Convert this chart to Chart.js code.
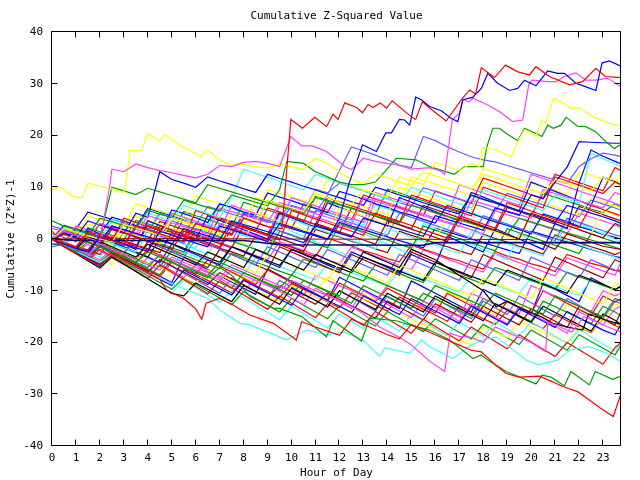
<!DOCTYPE html>
<html>
<head>
<meta charset="utf-8">
<title>Cumulative Z-Squared Value</title>
<script src="https://cdn.jsdelivr.net/npm/chart.js@4.4.1/dist/chart.umd.min.js"></script>
<style>
  html, body { margin: 0; padding: 0; background: #fff; }
  canvas { display: block; }
</style>
</head>
<body>
<canvas id="chart" width="640" height="480"></canvas>
<script>
// sample times (hours) shared by the plain walks
const hours = [0, 0.5, 1, 1.5, 2, 2.5, 3, 3.5, 4, 4.5, 5, 5.5, 6, 6.5, 7, 7.5,
  8, 8.5, 9, 9.5, 10, 10.5, 11, 11.5, 12, 12.5, 13, 13.5, 14, 14.5, 15, 15.5,
  16, 16.5, 17, 17.5, 18, 18.5, 19, 19.5, 20, 20.5, 21, 21.5, 22, 22.5, 23, 23.5, 23.75];
const xTicks = [0, 1, 2, 3, 4, 5, 6, 7, 8, 9, 10, 11, 12, 13, 14, 15, 16, 17, 18, 19, 20, 21, 22, 23];
const yTicks = [-40, -30, -20, -10, 0, 10, 20, 30, 40];

// traced lines [hour, value]
const redTop = [[0,0],[0.5,-0.8],[1,-1.5],[1.5,1.2],[2,0.5],[2.5,-0.3],[3,-1],[3.5,2.5],[4,1.8],[4.5,1],[5,0.3],[5.5,-0.5],[6,3],[6.5,2.2],[7,1.5],[7.5,0.8],[8,4],[8.5,3.2],[9,2.4],[9.6,2],[9.97,23.1],[10.45,21.4],[10.97,23.5],[11.46,21.7],[11.73,24.1],[11.94,23.1],[12.22,26.3],[12.71,25.4],[12.96,24.4],[13.19,26.0],[13.4,25.4],[13.7,26.3],[13.96,25.3],[14.2,26.7],[15.0,23.6],[15.18,23.1],[15.46,26.5],[15.76,25.3],[16.45,22.8],[16.67,24.2],[17.08,26.9],[17.43,28.8],[17.68,28.0],[17.92,33.1],[18.47,31.2],[18.93,33.6],[19.44,32.3],[19.93,31.7],[20.2,33.3],[20.76,31.4],[21.6,29.8],[22.15,30.4],[22.7,33.0],[23.1,31.4],[23.75,31.2]];
const blueTop = [[0,0],[0.5,-1],[1,-1.8],[1.5,-2.5],[2,0.5],[2.5,-0.2],[3,-1],[3.5,-1.7],[4,-2.4],[4.5,1.5],[5,0.8],[5.5,0],[6,-0.8],[6.5,-1.5],[7,2.5],[7.5,1.8],[8,1],[8.5,0.3],[9,-0.5],[9.5,3],[10,2.3],[10.5,1.5],[11,0.8],[11.5,0],[12,4],[12.4,10.8],[12.6,13.3],[12.96,18.2],[13.54,16.9],[13.93,20.5],[14.17,20.5],[14.5,23.1],[14.72,23.0],[14.93,22.0],[15.18,27.4],[15.42,26.9],[15.76,25.6],[16.25,24.8],[16.67,23.3],[16.94,22.7],[17.15,26.9],[17.57,27.4],[17.92,29.1],[18.19,32.0],[18.6,30.1],[19.1,28.7],[19.44,29.1],[19.72,30.7],[20.2,29.6],[20.69,32.5],[21.1,32.0],[21.39,32.0],[21.87,30.1],[22.29,29.4],[22.7,28.7],[22.96,34.0],[23.26,34.4],[23.75,33.4]];
const magentaTop = [[0,0],[0.5,1.5],[1,0.8],[1.5,0.2],[2,-0.5],[2.4,10],[2.5,13.5],[3,13],[3.5,14.5],[4,13.8],[4.5,13.2],[5,12.8],[5.5,12.3],[6,11.8],[6.5,12.5],[7,14.2],[7.5,14.0],[8,14.8],[8.5,15],[9,14.6],[9.5,14.0],[9.97,19.8],[10.42,18.0],[10.87,18.0],[11.46,16.9],[12.22,14.0],[12.5,13.4],[13,15.6],[13.5,15],[14,14.6],[14.5,14.2],[15,13.5],[15.76,13.8],[16.2,13.2],[16.39,12.5],[16.71,23.0],[17.0,24.3],[17.15,27.0],[17.4,26.5],[17.57,27.2],[18.19,25.9],[18.68,24.6],[19.23,22.7],[19.65,23.0],[19.9,29.8],[20.04,30.7],[20.69,30.4],[21.04,30.4],[21.39,31.4],[21.87,32.1],[22.29,30.7],[22.7,30.7],[23.19,31.1],[23.75,29.4]];
const yellowTop = [[0,9.7],[0.35,10],[0.9,8.2],[1.25,7.9],[1.5,10.8],[2,10.2],[2.5,9.6],[3,9],[3.15,13.3],[3.26,17.1],[3.75,17.2],[3.98,20.4],[4.48,19.0],[4.72,20.2],[5.35,18.0],[5.83,16.9],[6.22,15.9],[6.46,17.3],[7.01,15.3],[7.43,14.2],[7.85,14.5],[8.5,14],[9,13.7],[9.5,14.5],[10,14],[10.5,13.4],[11,15.6],[11.5,14.6],[12,13],[12.5,11.5],[13,10.8],[13.5,12.5],[14,11.8],[14.5,11],[15,10.3],[15.5,13],[16,12.2],[16.5,11.4],[17,10.6],[17.5,9.8],[18,12.5],[18.5,11.8],[19,11],[19.5,10.2],[20,9.5],[20.5,8.8],[21,11.5],[21.5,10.8],[22,10],[22.5,9.3],[23,12],[23.75,11]];
const yellowRise = [[0,0],[0.5,2],[1,1.3],[1.5,0.6],[2,0],[2.5,-0.6],[3,2.8],[3.5,2.1],[4,1.4],[4.5,0.7],[5,4],[5.5,3.3],[6,2.6],[6.5,1.9],[7,1.2],[7.5,4.6],[8,3.9],[8.5,3.2],[9,7.5],[9.5,6.8],[10,6],[10.5,5.3],[11,8.8],[11.5,8],[12,7.3],[12.5,6.6],[13,9.5],[13.5,8.8],[14,8.1],[14.5,12],[15,11.3],[15.5,10.5],[16,14.8],[16.5,14],[17,13.2],[17.5,14.6],[17.84,14.0],[17.96,17.7],[18.54,17.2],[19.17,15.9],[19.44,18.8],[19.72,21.1],[20.2,19.8],[20.46,23.0],[20.6,22.4],[20.93,27.2],[21.32,26.3],[21.73,25.1],[22.0,25.4],[22.57,23.6],[23.26,22.4],[23.75,21.8]];
const greenTop = [[0,0],[0.5,2],[1,1.3],[1.5,0.6],[2,4],[2.5,3.3],[3,2.6],[3.5,1.9],[4,5.5],[4.5,4.8],[5,4.1],[5.5,7.5],[6,6.8],[6.5,6.1],[7,5.4],[7.5,8.5],[8,7.8],[8.5,7.1],[9,6.4],[9.5,9.5],[9.8,15],[10.5,14.6],[11,13],[11.5,12],[12,11],[12.5,10.5],[13,10.5],[13.5,11],[13.95,13.3],[14.37,15.6],[15.2,15.3],[15.76,14.0],[16.3,13.2],[16.8,12.5],[17.22,14.0],[18.0,14.0],[18.15,17.8],[18.4,21.4],[18.68,21.4],[18.96,20.4],[19.44,19.0],[19.72,21.4],[20.2,20.4],[20.45,19.8],[20.69,22.0],[20.93,21.4],[21.25,22.0],[21.46,23.5],[21.94,21.8],[22.29,21.7],[22.7,20.7],[23.12,18.8],[23.47,17.5],[23.75,18.3]];
const redLow = [[0,0],[0.5,-1.5],[1,-2.8],[1.5,-4],[2,-5.2],[2.5,-3],[3,-4.2],[3.5,-5.4],[4,-6.5],[4.5,-7.8],[4.8,-9.9],[5.5,-11.5],[6,-13.5],[6.25,-15.5],[6.43,-12.4],[7,-11.5],[7.43,-12.4],[8.26,-14.7],[9.24,-16.3],[10.2,-19.5],[10.42,-16.0],[11,-17],[11.5,-17.8],[12,-18.6],[12.5,-15.5],[13,-16.5],[13.5,-17.5],[14,-18.5],[14.5,-19.3],[15,-16.5],[15.5,-17.5],[16,-18.5],[16.5,-19.5],[17,-20.5],[17.5,-21.5],[17.92,-21.8],[18.5,-24.3],[18.96,-26.0],[19.5,-26.7],[20.35,-26.5],[20.9,-27.6],[21.32,-28.5],[21.94,-29.5],[22.43,-31.1],[22.9,-32.7],[23.43,-34.3],[23.72,-30.3]];
const greenLow = [[0,0],[0.5,-1.3],[1,-2.5],[1.5,-0.5],[2,-1.5],[2.5,-2.5],[3,-3.5],[3.5,-4.5],[4,-2.5],[4.5,-3.5],[5,-4.5],[5.5,-5.5],[6,-6.5],[6.5,-7.5],[7,-5.5],[7.5,-7],[8.26,-11.1],[9.24,-13.4],[9.5,-13.4],[10.42,-15.0],[11.46,-18.9],[11.73,-15.8],[12.92,-19.7],[13.26,-15.3],[14.37,-15.8],[15,-16.7],[15.76,-17.6],[16.6,-19.5],[17.57,-23.1],[17.92,-22.4],[18.19,-23.4],[18.96,-25.6],[20.2,-28.0],[20.46,-26.3],[20.83,-26.7],[21.39,-28.4],[21.66,-25.6],[22.43,-28.2],[22.68,-25.6],[23.4,-27.1],[23.75,-26.5]];
const magentaLow = [[0,0],[0.5,-1],[1,-2],[1.5,-3],[2,-1],[2.5,-2],[3,-3],[3.5,-4],[4,-5],[4.5,-3],[5,-4],[5.5,-5],[6,-6],[6.5,-7],[7,-8],[7.5,-6],[8,-7],[8.5,-8],[9,-9],[9.5,-10],[10,-8],[10.5,-9],[11,-10],[11.5,-11],[12,-12],[12.5,-13],[13,-14.5],[13.68,-17.0],[14.5,-19],[15,-20.5],[15.76,-23.6],[16.39,-25.6],[16.62,-18.2],[17,-18.8],[17.5,-19],[18,-20],[18.5,-17],[19,-18],[19.5,-19],[20,-20],[20.6,-21.8],[20.7,-16],[21.2,-17],[21.7,-18],[22.2,-15],[22.7,-16],[23.2,-17],[23.75,-18]];
const cyanLow = [[0,0],[0.5,-1.2],[1,-2.4],[1.5,-3.5],[2,-4.5],[2.5,-3],[3,-4.2],[3.5,-5.4],[4,-6.6],[4.5,-7.6],[5,-8.6],[5.5,-9.6],[6,-10.5],[6.5,-11.5],[7,-13.7],[7.43,-15.0],[7.85,-16.3],[8.26,-16.6],[9,-18],[9.79,-19.5],[10.63,-17.6],[11.5,-18.5],[12.2,-18],[12.98,-19.5],[13.68,-22.7],[13.9,-21],[14.93,-22.1],[15.42,-19.5],[15.76,-20.8],[16.74,-23.1],[17.5,-20.5],[18,-19.5],[18.54,-18.9],[19.79,-23.4],[20.28,-24.3],[21.1,-23.4],[21.6,-21.5],[22.43,-20.8],[23.1,-22],[23.75,-23.7]];
const blackLow = [[0,0],[0.5,-1],[1,-2],[1.5,0.5],[2,-0.5],[2.5,-1.5],[3,-2.5],[3.5,-3.5],[4,-1],[4.5,-2],[5,-3],[5.5,-4],[6,-5],[6.5,-2.5],[7,-3.5],[7.5,-4.5],[8,-5.5],[8.5,-2],[9,-3],[9.5,-4],[10,-5],[10.5,-6],[11,-3],[11.5,-4],[12,-5],[12.5,-6],[13,-2.5],[13.5,-3.5],[14,-4.5],[14.5,-5.5],[15,-2],[15.5,-3],[16,-4],[16.5,-5.5],[17,-7],[17.5,-8.5],[18,-10],[18.54,-13.1],[19,-12],[19.5,-13.2],[20,-14.2],[20.5,-15.2],[20.9,-16.3],[21.5,-17],[22.15,-17.6],[22.4,-14.5],[23,-15.5],[23.75,-16.5]];
const navyFlat = [[0,0],[1,-0.3],[8,-0.3],[9.5,-1.1],[15.5,-1.2],[16,-0.7],[23.75,-0.7]];
const darkredFlat = [[0,0],[5,0.1],[9,0],[19.9,-0.1],[20.5,-1],[21,-2],[21.5,1],[22,0.2],[22.5,-0.6],[23,-1.4],[23.75,-2]];

// plain walks on the half-hour grid
const walk01 = [0, 1.5, 0.8, 0.1, -0.6, 2.5, 1.8, 1.1, 0.4, -0.3, -1, 2, 1.3, 0.6, -0.1, 3.5, 2.8, 2.1, 1.4, 0.7, 0, -0.7, 2.5, 1.8, 1.1, 0.4, 4, 3.3, 2.6, 1.9, 1.2, 0.5, 4.5, 3.8, 3.1, 2.4, 1.7, 6, 5.3, 4.6, 8.5, 7.8, 11, 13.9, 18.8, 18.7, 18.6, 18.5, 18.5];
const walk02 = [0, -0.8, -1.6, 1, 0.3, -0.4, -1.1, 2, 1.3, 0.6, -0.1, -0.8, 3, 2.3, 1.6, 0.9, 5, 4.3, 3.6, 2.9, 6.5, 5.8, 5.1, 8.5, 13.3, 17.8, 17.0, 16.2, 15.3, 14.3, 13.8, 19.8, 19.0, 17.8, 16.8, 15.9, 15.3, 14.9, 14.2, 13.5, 12.8, 12.1, 11.4, 10.7, 14, 15.5, 16.6, 16.2, 15.9];
const walk03 = [0, -0.8, -1.6, -2.4, 1, 0.3, -0.5, -1.3, -2.1, 2.5, 1.7, 0.9, 0.1, -0.7, -1.5, 3, 2.2, 1.4, 0.6, -0.2, 5.5, 4.7, 3.9, 3.1, 2.3, 1.5, 0.7, 5, 4.2, 3.4, 2.6, 1.8, 1, 0.2, 4.5, 3.7, 2.9, 2.1, 7, 6.2, 5.4, 4.6, 3.8, 3, 2.2, 6.5, 5.7, 4.9, 4.5];
const walk04 = [-1.5, -1, -2, -3, -1.5, -2.5, -3.5, -4.5, -5.5, -3, -4, -5, -6, -7, -4.5, -5.5, -6.5, -7.5, -8.5, -9.5, -7, -8, -9, -10, -11, -6, -7, -8, -9, -10, -11, -12, -9, -10, -11, -12, -13, -10.5, -11.5, -12.5, -13.5, -14.5, -11, -12, -13, -14, -15, -11.5, -12];
const walk05 = [0, -1.3, -2.6, -3.8, -5, -3, -4.2, -5.4, -6.6, -7.8, -9, -6, -7.2, -8.4, -9.6, -10.8, -8, -9.2, -10.4, -11.6, -12.8, -9.5, -10.7, -11.9, -13, -14.2, -11, -12.2, -13.4, -14.6, -11.5, -12.7, -13.9, -15.1, -16.3, -13, -14.2, -15.4, -16.6, -13.5, -14.7, -15.9, -17.1, -14, -15.2, -16.4, -17.6, -18.5, -16.5];
const walk06 = [2, 1.5, 0.8, 0.1, 3, 2.3, 1.6, 0.9, 4.5, 3.8, 3.1, 2.4, 1.7, 1, 6, 5.3, 4.6, 3.9, 3.2, 7, 6.3, 5.6, 4.9, 4.2, 3.5, 2.8, 8, 7.3, 6.6, 5.9, 5.2, 4.5, 3.8, 3.1, 2.4, 7.5, 6.8, 6.1, 5.4, 4.7, 4, 9.5, 8.8, 8.1, 7.4, 6.7, 6, 9, 8.5];
const walk07 = [0.5, -0.9, 1.5, 0.7, -0.1, -0.9, -1.7, -2.5, 1.5, 0.7, -0.1, -0.9, -1.7, 3, 2.2, 1.4, 0.6, -0.2, -1, 4.5, 3.7, 2.9, 2.1, 1.3, 0.5, -0.3, -1.1, -1.9, 2, 1.2, 0.4, -0.4, -1.2, -2, -2.8, 1.5, 0.7, -0.1, -0.9, -1.7, -2.5, -3.3, 0.5, -0.3, -1.1, -1.9, -2.7, -3.5, -4];
const walk08 = [0, -1, -2, 0.5, -0.5, -1.5, -2.5, -3.5, -1, -2, -3, -4, -5, -2.5, -3.5, -4.5, -5.5, -6.5, -3, -4, -5, -6, -7, -8, -4.5, -5.5, -6.5, -7.5, -8.5, -5, -6, -7, -8, -9, -10, -11, -7.5, -8.5, -9.5, -10.5, -11.5, -7.5, -8.5, -9.5, -10.5, -11.5, -12.5, -8.5, -9];
const walk09 = [0, -1.4, -2.8, -4.2, -5.6, -3.5, -4.9, -6.3, -7.7, -9.1, -10.5, -11, -8.5, -9.7, -10.9, -12.1, -9, -10.2, -11.4, -12.6, -9.5, -10.7, -11.9, -13.1, -10, -11.2, -12.4, -13.6, -10.5, -11.7, -12.9, -14.1, -11, -12.2, -13.4, -14.6, -15.8, -12.5, -13.7, -14.9, -16.1, -13, -14.2, -15.4, -16.6, -17.8, -14.5, -15.7, -16.5];
const walk10 = [0, 1, 0.2, -0.6, -1.4, 2, 1.2, 0.4, -0.4, -1.2, -2, 1.5, 0.7, -0.1, -0.9, -1.7, 2.5, 1.7, 0.9, 0.1, -0.7, -1.5, 3, 2.2, 1.4, 0.6, -0.2, -1, 3.5, 2.7, 1.9, 1.1, 0.3, -0.5, 4, 3.2, 2.4, 1.6, 0.8, 0, 5, 4.2, 3.4, 2.6, 1.8, 1, 0.2, 3, 2.5];
const walk11 = [0, -1.4, -2.8, -4.2, -2, -3.4, -4.8, -6.2, -7.6, -5, -6.4, -7.8, -9.2, -10.6, -8, -9.4, -10.8, -12.2, -13.6, -11, -12.4, -13.8, -15.2, -12.5, -13.9, -15.3, -16.7, -14, -15.4, -16.8, -18.2, -15.5, -16.9, -18.3, -19.7, -17, -18.4, -19.8, -21.2, -18.5, -19.9, -21.3, -22.7, -20, -21.4, -22.8, -24.2, -21, -20];
const walk12 = [0, 1.2, 0.4, 3.5, 2.7, 1.9, 1.1, 5, 4.2, 13, 11.5, 10.8, 10, 12, 11.2, 10.5, 9.7, 9, 12.5, 11.7, 11, 10.2, 9.5, 8.7, 8, 7.2, 6.5, 10, 9.3, 8.5, 7.8, 7, 6.3, 5.5, 4.8, 8.5, 7.7, 7, 6.2, 5.5, 4.7, 4, 3.2, 6.5, 5.8, 5, 4.3, 3.5, 3];
const walk13 = [3.5, 2.5, 1.8, 1.1, 0.4, 10, 9.3, 8.6, 9.8, 9.1, 8.4, 7.7, 7, 10.5, 9.8, 9.1, 8.4, 7.7, 7, 6.3, 5.6, 4.9, 8, 7.3, 6.6, 5.9, 5.2, 4.5, 3.8, 3.1, 6.5, 5.8, 5.1, 4.4, 3.7, 3, 2.3, 1.6, 0.9, 4, 3.3, 2.6, 1.9, 1.2, 0.5, -0.2, -0.9, -1.6, -2];
const walk14 = [0, -1, -2, -3, -4, -2, -3, -4, -5, -6, -3.5, -4.5, -5.5, -6.5, -7.5, -5, -6, -7, -8, -9, -10, -11, -7, -8, -9, -10, -11, -12, -9, -10, -11, -12, -13, -14, -15, -10.5, -11.5, -12.5, -13.5, -14.5, -9, -10, -11, -12, -13, -14, -10, -11, -10.5];
const walk15 = [0, -1, 1.5, 0.7, -0.1, 3.5, 2.7, 1.9, 5, 4.2, 3.4, 6.5, 5.7, 4.9, 4.1, 8, 13.5, 12.7, 11.9, 11.1, 10.3, 9.5, 12.5, 11.7, 10.9, 10.1, 9.3, 8.5, 7.7, 6.9, 10, 9.2, 8.4, 7.6, 6.8, 6, 9.5, 8.7, 7.9, 7.1, 6.3, 5.5, 8.5, 7.7, 6.9, 16.6, 15.5, 14.5, 14];
const walk16 = [0, 2, 1.2, 0.4, -0.4, -1.2, 1.5, 0.7, -0.1, -0.9, 4, 3.2, 2.4, 1.6, 0.8, 0, -0.8, 5, 4.2, 3.4, 2.6, 1.8, 1, 0.2, 6, 5.2, 4.4, 3.6, 2.8, 2, 1.2, 0.4, -0.4, 4.5, 3.7, 2.9, 2.1, 1.3, 0.5, -0.3, 5, 4.2, 3.4, 2.6, 1.8, 1, 5.5, 4.7, 4.2];
const walk17 = [0, -0.9, -1.8, 1, 0.1, -0.8, -1.7, -2.6, -3.5, 0, -0.9, -1.8, -2.7, -3.6, -4.5, -1.5, -2.4, -3.3, -4.2, -5.1, -2, -2.9, -3.8, -4.7, -5.6, -6.5, -3.5, -4.4, -5.3, -6.2, -7.1, -8, -4.5, -5.4, -6.3, -7.2, -8.1, -9, -6, -6.9, -7.8, -8.7, -9.6, -10.5, -7, -7.9, -8.8, -9.7, -9.2];
const walk18 = [0, -1.2, -2.4, -3.6, -1.5, -2.7, -3.9, -5.1, -6.3, -4, -5.2, -6.4, -7.6, -8.8, -6.5, -7.7, -8.9, -10.1, -11.3, -9, -10.2, -11.4, -12.6, -10.5, -11.7, -12.9, -14.1, -15.3, -12, -13.2, -14.4, -15.6, -12.5, -13.7, -14.9, -16.1, -13, -14.2, -15.4, -16.6, -13.5, -14.7, -15.9, -17.1, -13, -14.2, -15.4, -16.6, -14];
const walk19 = [0, -1, -2, 0, -1, -2, -3, 0.5, -0.5, -1.5, -2.5, -3.5, 0, -1, -2, -3, -4, -5, -1.5, -2.5, -3.5, -4.5, -5.5, -2, -3, -4, -5, -6, -7, -3, -4, -5, -6, -7, -8, -4, -5, -6, -7, -8, -3.5, -4.5, -5.5, -6.5, -7.5, -4, -5, -6, -6.5];
const walk20 = [1.5, -0.9, 2, 1.2, 0.4, -0.4, 4, 3.2, 2.4, 1.6, 0.8, 0, 5.5, 4.7, 3.9, 3.1, 2.3, 1.5, 6, 5.2, 4.4, 3.6, 2.8, 8, 7.2, 6.4, 5.6, 4.8, 4, 3.2, 8.5, 7.7, 6.9, 6.1, 5.3, 4.5, 10, 9.2, 8.4, 7.6, 6.8, 6, 12, 11.2, 10.4, 9.6, 8.8, 11, 10.5];
const walk21 = [0, -1.1, -2.2, -3.3, -4.4, -2.5, -3.6, -4.7, -5.8, -6.9, -4, -5.1, -6.2, -7.3, -8.4, -9.5, -6.5, -7.6, -8.7, -9.8, -10.9, -8, -9.1, -10.2, -11.3, -12.4, -9, -10.1, -11.2, -12.3, -13.4, -10.5, -11.6, -12.7, -13.8, -14.9, -11.5, -12.6, -13.7, -14.8, -15.9, -12, -13.1, -14.2, -15.3, -16.4, -13, -14.1, -14.8];
const walk22 = [0, -1, -2, -3, 0.5, -0.5, -1.5, -2.5, -3.5, -4.5, -1, -2, -3, -4, -5, -1.5, -2.5, -3.5, -4.5, -5.5, -2, -3, -4, -5, -6, -2.5, -3.5, -4.5, -5.5, -6.5, -3, -4, -5, 0.5, -0.5, -1.5, -2.5, 2, 1, 0, -1, -2, 3, 2, 10.8, 17.2, 16, 15, 14.5];
const walk23 = [0, -1.3, -2.6, -1, -2.3, -3.6, -4.9, -6.2, -3.5, -4.8, -6.1, -7.4, -5, -6.3, -7.6, -8.9, -10.2, -7.5, -8.8, -10.1, -11.4, -12.7, -9.5, -10.8, -12.1, -13.4, -10, -11.3, -12.6, -13.9, -15.2, -12, -13.3, -14.6, -15.9, -12.5, -13.8, -15.1, -16.4, -13, -14.3, -15.6, -16.9, -18.2, -14, -15.3, -16.6, -13.5, -13];
const walk24 = [0, -1.4, -2.8, -4.2, -5.6, -3.5, -4.9, -6.3, -7.7, -9.1, -10.5, -8, -9.4, -10.8, -12.2, -10, -11.4, -12.8, -14.2, -15.6, -13, -14.4, -15.8, -17.2, -14.5, -15.9, -17.3, -15, -16.4, -17.8, -14.5, -15.9, -17.3, -18.7, -16, -17.4, -18.8, -16, -17.4, -18.8, -16, -17.4, -18.8, -20.2, -17.5, -18.9, -20.3, -21.7, -20];
const walk25 = [0, -1, -2, -3, -4, -5, -2.5, -3.5, -4.5, -5.5, -6.5, -7.5, -8.5, -6, -7, -8, -9, -10, -11, -12, -9, -10, -11, -12, -13, -14, -11.5, -12.5, -13.5, -14.5, -15.5, -16.5, -17.5, -18.5, -19.5, -20.5, -17, -18, -19, -16, -17, -18, -19, -20, -17, -18, -15.5, -16.5, -17];
const walk26 = [2.5, 1.8, 1, 0.2, -0.6, 2.5, 1.7, 0.9, 0.1, -0.7, 3.5, 2.7, 1.9, 1.1, 0.3, -0.5, 4, 3.2, 2.4, 1.6, 0.8, 0, 5.5, 4.7, 3.9, 3.1, 2.3, 1.5, 0.7, 5, 4.2, 3.4, 2.6, 1.8, 1, 0.2, 4.5, 3.7, 2.9, 2.1, 1.3, 0.5, -0.3, 4, 3.2, 2.4, 1.6, 0.8, 0.5];
const walk27 = [0, -1, -2, -3, -1, -2, -3, -4, -0.5, -1.5, -2.5, -3.5, -4.5, -5.5, -2, -3, -4, -5, -6, -1.5, -2.5, -3.5, -4.5, -5.5, -6.5, -3, -4, -5, -6, -7, -2.5, -3.5, -4.5, -5.5, -6.5, -7.5, -3, -4, -5, -6, -7, -8, -3.5, -4.5, -5.5, -6.5, -7.5, -4, -4.5];
const walk28 = [-1, -1, -2, 2, 1, 0, -1, -2, 3.5, 2.6, 1.7, 0.8, -0.1, 4.5, 3.6, 2.7, 1.8, 0.9, 0, 5, 4.1, 3.2, 2.3, 7, 6.1, 5.2, 4.3, 3.4, 2.5, 8, 7.1, 6.2, 5.3, 4.4, 3.5, 9, 8.1, 7.2, 6.3, 5.4, 11, 10.1, 9.2, 8.3, 7.4, 6.5, 12, 11.1, 10.5];
const walk29 = [0, -1.2, 1.5, 0.3, -0.9, -2.1, -3.3, -4.5, -2, -3.2, -4.4, -5.6, -6.8, -4, -5.2, -6.4, -7.6, -8.8, -6, -7.2, -8.4, -9.6, -10.8, -12, -8.5, -9.7, -10.9, -12.1, -9.5, -10.7, -11.9, -13.1, -14.3, -10.5, -11.7, -12.9, -14.1, -15.3, -12, -13.2, -14.4, -10, -11.2, -12.4, -13.6, -14.8, -11, -12.2, -11.5];
const walk30 = [0, 1, 0.2, -0.6, -1.4, -2.2, 1.5, 0.7, -0.1, -0.9, -1.7, -2.5, 2, 1.2, 0.4, -0.4, -1.2, -2, -2.8, 1.5, 0.7, -0.1, -0.9, -1.7, 3, 2.2, 1.4, 0.6, -0.2, -1, -1.8, 2.5, 1.7, 0.9, 0.1, -0.7, -1.5, -2.3, 2, 1.2, 0.4, -0.4, -1.2, -2, -2.8, 1, 0.2, -0.6, -1];
const walk31 = [0, -1.3, -2.6, -3.9, -1.5, -2.8, -4.1, -5.4, -6.7, -4, -5.3, -6.6, -7.9, -9.2, -10.5, -7.5, -8.8, -10.1, -11.4, -8, -9.3, -10.6, -11.9, -13.2, -10, -11.3, -12.6, -13.9, -11, -12.3, -13.6, -14.9, -11.5, -12.8, -14.1, -15.4, -12, -13.3, -14.6, -11, -12.3, -13.6, -14.9, -11.5, -12.8, -14.1, -15.4, -12, -12.5];
const walk32 = [0, -0.8, 2.5, 1.7, 0.9, 0.1, 3, 2.2, 1.4, 0.6, 5, 4.2, 3.4, 2.6, 1.8, 6.5, 5.7, 4.9, 4.1, 3.3, 8, 7.2, 6.4, 5.6, 4.8, 4, 3.2, 9, 8.2, 7.4, 6.6, 5.8, 5, 4.2, 10.5, 9.7, 8.9, 8.1, 7.3, 6.5, 12.5, 11.7, 10.9, 10.1, 9.3, 8.5, 7.7, 6.9, 6.5];
const walk33 = [1, -1, -2, -3, 0.5, -0.5, -1.5, -2.5, 2, 1, 0, -1, -2, -3, 1, 0, -1, -2, -3, 2.5, 1.5, 0.5, -0.5, -1.5, -2.5, -3.5, 1, 0, -1, -2, -3, 3, 2, 1, 0, -1, -2, -3, -4, 1, 0, -1, -2, 4, 3, 2, 1, 0, -0.5];
const walk34 = [0, 1, 0.2, 3, 2.2, 1.4, 0.6, 4.5, 3.7, 2.9, 2.1, 1.3, 5.5, 4.7, 3.9, 3.1, 2.3, 8, 7.2, 6.4, 5.6, 4.8, 9.5, 8.7, 7.9, 7.1, 6.3, 5.5, 4.7, 10, 9.2, 8.4, 7.6, 6.8, 6, 5.2, 11, 10.2, 9.4, 8.6, 7.8, 7, 6.2, 5.4, 4.6, 8, 7.2, 6.4, 6];
const walk35 = [0, -0.6, -1.5, -2.1, 0.8, 0.1, -0.9, -1.4, 2.6, 1.8, 1.3, 0.4, -0.3, -1.2, -1.8, 1.9, 1.2, 0.3, -0.5, -1.1, -2, -2.6, -3.4, 0.2, -0.6, -1.3, -2.3, -2.9, -3.8, -4.4, -1.2, -2, -2.7, -3.6, -4.2, -5.1, -5.8, -2.4, -3.3, -3.9, -4.8, -5.4, -6.3, -3, -3.8, -4.7, -5.3, -6.1, -6];
const walk36 = [0, -1.1, -1.7, 1.5, 0.9, 4.2, 3.5, 2.6, 2, 1.1, 5.6, 4.9, 4.1, 3.2, 6.8, 6.1, 5.2, 4.6, 8.9, 8.1, 7.4, 6.6, 5.9, 5.1, 9.2, 8.5, 7.7, 6.8, 6.1, 5.2, 4.6, 3.8, 3.1, 6.5, 5.7, 4.9, 4.1, 3.3, 2.6, 1.8, 1, 4.8, 4.1, 3.3, 2.4, 1.7, 0.9, 0.3, 0];
const walk37 = [0, -1.2, -2.2, -3.1, -0.9, -1.8, -2.9, -3.7, -4.6, -5.4, -2.2, -3.1, -4, -4.8, -5.7, -2.8, -3.6, -4.5, -5.3, -6.2, -7, -3.9, -4.7, -5.6, -6.4, -7.3, -8.1, -5, -5.9, -6.7, -7.6, -8.4, -5.2, -6.1, -7, -7.8, -8.7, -5.5, -6.3, -7.2, -8, -8.9, -9.7, -6.4, -7.3, -8.1, -9, -9.8, -9.2];
const walk38 = [0, 0.8, 0.1, -0.7, -1.4, 1.8, 1.1, 0.3, 3.5, 2.7, 2, 1.2, 0.5, -0.3, 2.9, 2.1, 1.4, 0.6, -0.1, 6.5, 5.7, 5, 4.2, 3.5, 2.7, 2, 1.2, 7.8, 7, 6.3, 5.5, 4.8, 4, 3.3, 2.5, 1.8, 1, 5.5, 4.7, 4, 3.2, 2.5, 1.7, 1, 5, 4.2, 3.5, 2.7, 2.4];
const walk39 = [0, -0.9, -1.8, -2.6, -3.5, -1, -1.9, -2.7, -3.6, -4.4, -5.3, -2.5, -3.4, -4.2, -5.1, -5.9, -6.8, -3.6, -4.5, -5.3, -6.2, -7, -7.9, -4.8, -5.7, -6.5, -7.4, -8.2, -9.1, -6, -6.9, -7.7, -8.6, -9.4, -10.3, -7.2, -8.1, -8.9, -9.8, -10.6, -7.5, -8.4, -9.2, -10.1, -10.9, -8, -8.9, -9.7, -10.2];
const walk40 = [0, 1.4, 0.7, 4.5, 3.8, 3.1, 2.4, 6.8, 6.1, 5.4, 4.7, 4, 8.2, 7.5, 6.8, 6.1, 5.4, 4.7, 9.5, 8.8, 8.1, 7.4, 6.7, 11.6, 10.9, 10.2, 9.5, 8.8, 8.1, 7.4, 12, 11.3, 10.6, 9.9, 9.2, 8.5, 13.6, 12.9, 12.2, 11.5, 10.8, 10.1, 9.4, 8.7, 13, 12.3, 11.6, 10.9, 12.5];
const walk41 = [0, -0.7, -1.6, -2.2, -3, 0.4, -0.4, -1.1, -1.9, -2.6, 1.2, 0.5, -0.3, -1, -1.8, -2.5, -3.3, 0.6, -0.1, -0.9, -1.6, -2.4, 1.9, 1.1, 0.4, -0.4, -1.1, -1.9, -2.6, 1.5, 0.7, 0, -0.8, -1.5, -2.3, -3, 0.9, 0.1, -0.6, -1.4, -2.1, -2.9, 0.8, 0, -0.7, -1.5, -2.2, -3, -2.5];
const walk42 = [0, -0.8, 1.6, 0.9, 0.1, -0.6, 2.8, 2.1, 1.3, 4.9, 4.2, 3.4, 2.7, 6.3, 5.6, 4.8, 4.1, 3.3, 7.4, 6.7, 5.9, 5.2, 9.6, 8.9, 10.8, 10, 9.3, 8.5, 7.8, 7, 6.3, 9.9, 9.2, 8.4, 7.7, 6.9, 6.2, 5.4, 8.8, 8.1, 7.3, 6.6, 5.8, 5.1, 4.3, 7.5, 6.8, 6, 5.6];
const walk43 = [0, -1.3, -2.5, -3.7, -4.8, -2.6, -3.8, -5, -6.1, -7.3, -4.5, -5.7, -6.9, -8, -9.2, -10.4, -7.8, -9, -10.1, -11.3, -8.6, -9.8, -11, -12.1, -13.3, -10.4, -11.6, -12.8, -13.9, -11.2, -12.4, -13.6, -14.7, -15.9, -13, -14.2, -15.4, -16.5, -13.8, -15, -16.2, -17.3, -14.6, -15.8, -17, -18.1, -15.5, -16.7, -17.2];
const walk44 = [1, 0.3, -0.5, 2.2, 1.4, 0.7, -0.1, 3.6, 2.9, 2.1, 1.4, 5.3, 4.5, 3.8, 3, 2.3, 7.1, 6.3, 5.6, 4.8, 4.1, 3.3, 8.2, 7.5, 6.7, 6, 5.2, 4.5, 9.6, 8.9, 8.1, 7.4, 6.6, 5.9, 5.1, 8.4, 7.6, 6.9, 6.1, 5.4, 4.6, 8.8, 8.1, 7.3, 6.6, 5.8, 5.1, 6.8, 6.2];
const walk45 = [0, -1.5, -2.7, -3.9, -1.2, -2.4, -3.6, -4.8, -6, -7.2, -8.4, -3.5, -4.7, -5.9, -7.1, -8.3, -9.5, -10.7, -5.8, -7, -8.2, -9.4, -10.6, -11.8, -7.4, -8.6, -9.8, -11, -12.2, -13.4, -8.1, -9.3, -10.5, -11.7, -12.9, -14.1, -9.7, -10.9, -12.1, -13.3, -14.5, -8.5, -9.7, -10.9, -12.1, -7.5, -8.7, -9.9, -9];
const walk46 = [0, -1, 0.8, 0, -0.9, -1.8, -2.6, 0.6, -0.3, -1.1, -2, -2.9, 1.1, 0.3, -0.6, -1.5, -2.3, -3.2, -4, -0.5, -1.4, -2.2, -3.1, -4, -4.8, -1.6, -2.5, -3.3, -4.2, -5.1, -5.9, -2.1, -3, -3.9, -4.7, -5.6, -6.4, -2.8, -3.7, -4.6, -5.4, -6.3, -7.1, -3.6, -4.5, -5.3, -6.2, -7, -4.5];
const walk47 = [0, 1.2, 0.4, -0.4, 2.9, 2.1, 1.3, 0.5, -0.3, 3.4, 2.6, 1.8, 1, 0.2, 4.1, 3.3, 2.5, 1.7, 0.9, 5.2, 4.4, 3.6, 2.8, 2, 1.2, 6, 5.2, 4.4, 3.6, 2.8, 2, 6.5, 5.7, 4.9, 4.1, 3.3, 2.5, 1.7, 6.1, 5.3, 4.5, 3.7, 2.9, 2.1, 6.3, 5.5, 4.7, 3.9, 3.5];
const walk48 = [0, -0.9, 2.3, 1.5, 0.7, 3.8, 3, 2.2, 1.4, 5.5, 4.7, 3.9, 3.1, 2.3, 6.7, 5.9, 5.1, 4.3, 3.5, 2.7, 7.5, 6.7, 5.9, 5.1, 4.3, 3.5, 2.7, 6.6, 5.8, 5, 4.2, 3.4, 2.6, 1.8, 5.9, 5.1, 4.3, 3.5, 2.7, 1.9, 1.1, 5, 4.2, 3.4, 2.6, 1.8, 1, 2.6, 2];
const walk49 = [0, -1.1, -2.2, -0.2, -1.3, -2.4, -3.5, -4.6, -2.3, -3.4, -4.5, -5.6, -6.7, -4.1, -5.2, -6.3, -7.4, -8.5, -5.8, -6.9, -8, -9.1, -10.2, -7.4, -8.5, -9.6, -10.7, -11.8, -8.9, -10, -11.1, -12.2, -13.3, -10.2, -11.3, -12.4, -13.5, -14.6, -11.4, -12.5, -13.6, -14.7, -15.8, -12.5, -13.6, -14.7, -15.8, -12.6, -13];
const walk50 = [0, -0.9, -1.7, 1.1, 0.3, -0.5, -1.3, 2.4, 1.6, 0.8, 0, 3.9, 3.1, 2.3, 1.5, 0.7, 5.2, 4.4, 3.6, 2.8, 2, 6.8, 6, 5.2, 4.4, 3.6, 8.5, 7.7, 6.9, 6.1, 5.3, 4.5, 9.3, 8.5, 7.7, 6.9, 11.8, 11, 10.2, 9.4, 8.6, 7.8, 12.5, 11.7, 10.9, 10.1, 9.3, 13.8, 13.2];
const walk51 = [0, 2.6, 1.9, 5.2, 4.5, 3.8, 3.1, 2.4, 5.9, 5.2, 4.5, 3.8, 3.1, 2.4, 1.7, 1, 4.8, 4.1, 3.4, 2.7, 2, 1.3, 0.6, -0.1, 3.2, 2.5, 1.8, 1.1, 0.4, -0.3, -1, -1.7, 2.1, 1.4, 0.7, 0, -0.7, -1.4, -2.1, -2.8, 1.5, 0.8, 0.1, -0.6, -1.3, -2, -2.7, -3.4, -3.6];
const walk52 = [0, -1.4, -2.7, -4, -5.3, -3.2, -4.5, -5.8, -7.1, -8.4, -9.7, -7.5, -8.8, -10.1, -11.4, -12.7, -10.2, -11.5, -12.8, -14.1, -11.5, -12.8, -14.1, -15.4, -12.9, -14.2, -15.5, -16.8, -14, -15.3, -16.6, -17.9, -15.4, -16.7, -18, -19.3, -16.5, -17.8, -19.1, -20.4, -17.6, -18.9, -20.2, -21.5, -18.5, -19.8, -21.1, -22.4, -20.5];

const RED = '#ff0000', GREEN = '#00a000', BLUE = '#0000ff', MAGENTA = '#ff40ff',
  CYAN = '#40ffff', YELLOW = '#ffff00', BLACK = '#000000', DARKRED = '#a00000', SLATE = '#6060ff';

const traced = [
  [redTop, RED], [blueTop, BLUE], [magentaTop, MAGENTA], [yellowTop, YELLOW],
  [yellowRise, YELLOW], [greenTop, GREEN], [redLow, RED], [greenLow, GREEN],
  [magentaLow, MAGENTA], [cyanLow, CYAN], [blackLow, BLACK], [navyFlat, '#000080'],
  [darkredFlat, DARKRED]
];
const walks = [
  [walk01, BLUE], [walk02, SLATE], [walk03, RED], [walk04, GREEN], [walk05, BLUE],
  [walk06, MAGENTA], [walk07, CYAN], [walk08, YELLOW], [walk09, BLACK], [walk10, DARKRED],
  [walk11, RED], [walk12, BLUE], [walk13, GREEN], [walk14, MAGENTA], [walk15, CYAN],
  [walk16, YELLOW], [walk17, BLACK], [walk18, DARKRED], [walk19, SLATE], [walk20, RED],
  [walk21, GREEN], [walk22, BLUE], [walk23, MAGENTA], [walk24, CYAN], [walk25, YELLOW],
  [walk26, SLATE], [walk27, DARKRED], [walk28, BLUE], [walk29, RED], [walk30, GREEN],
  [walk31, SLATE], [walk32, MAGENTA], [walk33, CYAN], [walk34, YELLOW],
  [walk35, RED], [walk36, BLUE], [walk37, GREEN], [walk38, MAGENTA], [walk39, CYAN],
  [walk40, YELLOW], [walk41, DARKRED], [walk42, SLATE], [walk43, RED], [walk44, GREEN],
  [walk45, BLUE], [walk46, MAGENTA], [walk47, DARKRED], [walk48, CYAN], [walk49, YELLOW],
  [walk50, RED], [walk51, BLUE], [walk52, GREEN]
];

const FONT = "'DejaVu Sans Mono', 'Liberation Mono', monospace";

const lineStyle = (color, width) => ({
  borderColor: color,
  backgroundColor: color,
  borderWidth: width,
  pointRadius: 0,
  tension: 0,
  fill: false
});

const datasets = [
  ...traced.map(([pts, color]) => ({
    data: pts.map(([x, y]) => ({ x, y })),
    ...lineStyle(color, pts === navyFlat ? 1.6 : 1.2)
  })),
  ...walks.map(([vals, color]) => ({
    data: vals.map((v, i) => ({ x: hours[i], y: v })),
    ...lineStyle(color, 1.2)
  }))
];

// gnuplot style box with inward ticks + title above plot centre
const framePlugin = {
  id: 'frame',
  afterDatasetsDraw(chart) {
    const { ctx, chartArea: a, scales: { x, y } } = chart;
    const L = Math.round(a.left) - 0.5, R = Math.round(a.right) - 0.5;
    const T = Math.round(a.top) - 0.5, B = Math.round(a.bottom) - 0.5;
    ctx.save();
    ctx.strokeStyle = '#000';
    ctx.lineWidth = 1;
    ctx.beginPath();
    ctx.rect(L, T, R - L, B - T);
    xTicks.forEach(v => {
      const px = Math.round(x.getPixelForValue(v)) - 0.5;
      ctx.moveTo(px, B); ctx.lineTo(px, B - 6);
      ctx.moveTo(px, T); ctx.lineTo(px, T + 6);
    });
    yTicks.forEach(v => {
      const py = Math.round(y.getPixelForValue(v)) - 0.5;
      ctx.moveTo(L, py); ctx.lineTo(L + 6, py);
      ctx.moveTo(R, py); ctx.lineTo(R - 6, py);
    });
    ctx.stroke();
    ctx.fillStyle = '#000';
    ctx.font = '11px ' + FONT;
    ctx.textAlign = 'center';
    ctx.textBaseline = 'middle';
    ctx.fillText('Cumulative Z-Squared Value', (a.left + a.right) / 2, 16);
    ctx.restore();
  }
};

new Chart(document.getElementById('chart'), {
  type: 'line',
  data: { datasets },
  plugins: [framePlugin],
  options: {
    responsive: false,
    animation: false,
    devicePixelRatio: 1,
    layout: { padding: { top: 32, right: 19, left: 0, bottom: 0 } },
    plugins: {
      legend: { display: false },
      title: { display: false },
      tooltip: { enabled: false }
    },
    scales: {
      x: {
        type: 'linear',
        min: 0,
        max: 23.75,
        afterFit(s) { s.height = 34; },
        afterBuildTicks(s) { s.ticks = xTicks.map(v => ({ value: v })); },
        grid: { display: false, drawTicks: false },
        border: { display: false },
        ticks: { color: '#000', font: { family: FONT, size: 11 }, padding: 6, maxRotation: 0, autoSkip: false },
        title: { display: true, text: 'Hour of Day', color: '#000', font: { family: FONT, size: 11 }, padding: { top: 0, bottom: 0 } }
      },
      y: {
        min: -40,
        max: 40,
        afterFit(s) { s.width = 52; },
        afterBuildTicks(s) { s.ticks = yTicks.map(v => ({ value: v })); },
        grid: { display: false, drawTicks: false },
        border: { display: false },
        ticks: { color: '#000', font: { family: FONT, size: 11 }, padding: 9 },
        title: { display: true, text: 'Cumulative (Z*Z)-1', color: '#000', font: { family: FONT, size: 11 }, padding: { top: 5, bottom: 0 } }
      }
    }
  }
});
</script>
</body>
</html>
